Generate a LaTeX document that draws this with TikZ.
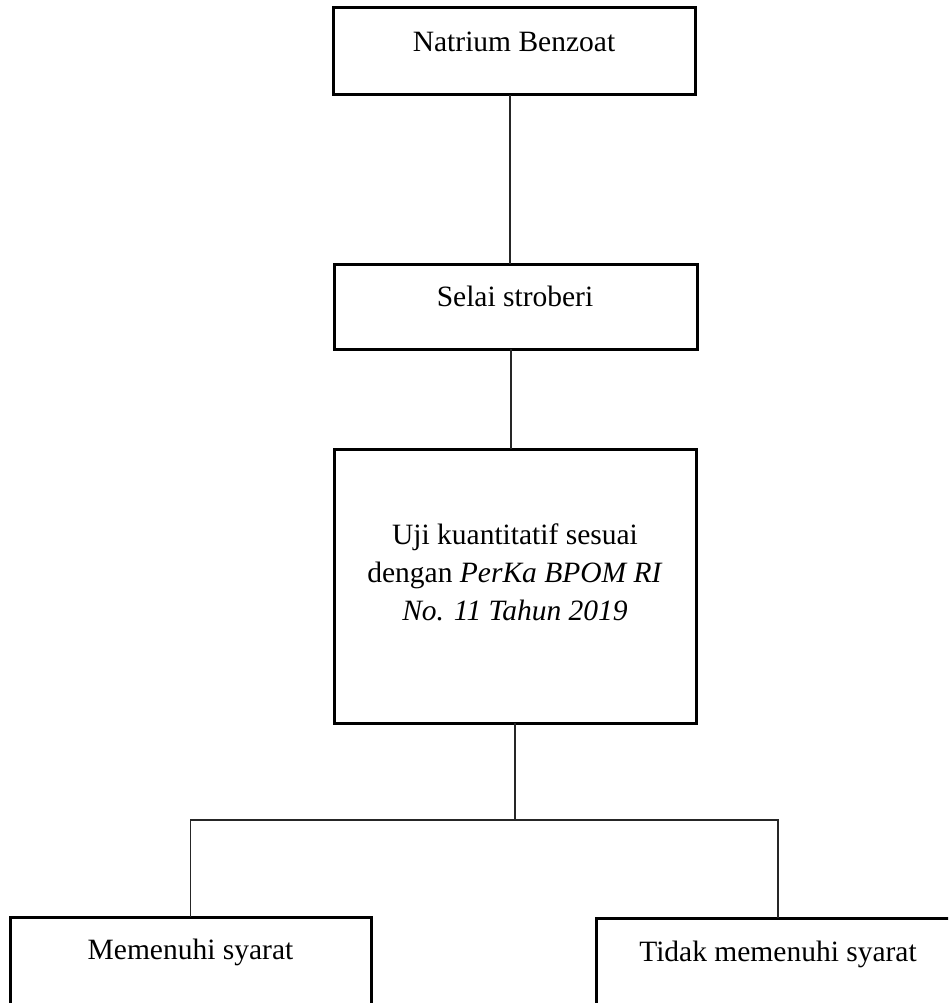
\documentclass[tikz,border=0pt]{standalone}
\usepackage{fontspec}
\setmainfont{Liberation Serif}
\begin{document}
\begin{tikzpicture}[x=1pt,y=-1pt,
  box/.style={draw=black, line width=3pt, inner sep=0pt, outer sep=0pt, fill=white},
  conn/.style={draw=black!85, line width=1.5pt},
  txt/.style={inner sep=0pt, outer sep=0pt, font=\fontsize{29.5}{38}\selectfont, anchor=base}]
\useasboundingbox (0,0) rectangle (948,1003);
\clip (0,0) rectangle (948,1003);
\fill[white] (0,0) rectangle (948,1003);
% boxes
\node[box, minimum width=362pt, minimum height=87pt] (b1) at (514,51.5) {};
\node[box, minimum width=363pt, minimum height=85pt] (b2) at (515.5,306.5) {};
\node[box, minimum width=362pt, minimum height=274pt] (b3) at (515,586) {};
\node[box, minimum width=361pt, minimum height=103pt] (b4) at (190.5,968.5) {};
\node[box, minimum width=364pt, minimum height=102pt] (b5) at (778,969) {};
% texts
\node[txt] (t1) at (514,52) {Natrium Benzoat};
\node[txt] (t2) at (515,306.5) {Selai stroberi};
\node[txt] (t3a) at (515,544) {Uji kuantitatif sesuai};
\node[txt] (t3b) at (515,582) {dengan \textit{PerKa BPOM RI}};
\node[txt] (t3c) at (515,620) {\textit{No. 11 Tahun 2019}};
\node[txt] (t4) at (190.5,959) {Memenuhi syarat};
\node[txt] (t5) at (778,961) {Tidak memenuhi syarat};
% connectors
\coordinate (j) at (515,820);
\draw[conn] ([xshift=-4pt]b1.south) -- ([xshift=-4pt]b1.south |- b2.north);
\draw[conn] ([xshift=-4.5pt]b2.south) -- ([xshift=-4.5pt]b2.south |- b3.north);
\draw[conn] (b3.south) -- (j);
\draw[conn] (b4.north) |- (j) -| (b5.north);
\end{tikzpicture}
\end{document}
